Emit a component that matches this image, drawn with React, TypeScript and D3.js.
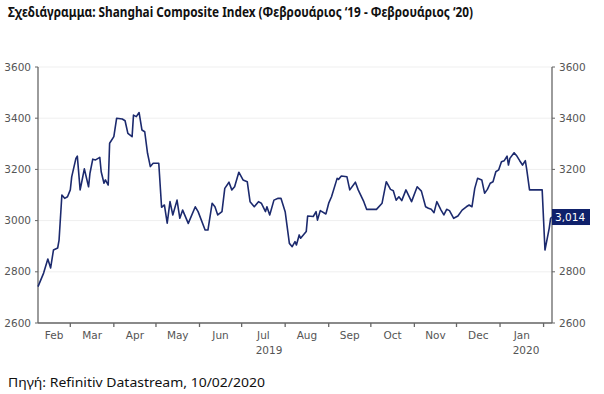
import React from "react";
import * as d3 from "d3";

const width = 604;
const height = 394;
const plot = { left: 38, right: 552, top: 67, bottom: 323 };

const title = "Σχεδιάγραμμα: Shanghai Composite Index (Φεβρουάριος ‘19 - Φεβρουάριος ‘20)";
const source = "Πηγή: Refinitiv Datastream, 10/02/2020";

const dates = [
  "2019-02-06", "2019-02-10", "2019-02-13", "2019-02-15", "2019-02-17", "2019-02-20", "2019-02-21", "2019-02-23",
  "2019-02-25", "2019-02-27", "2019-03-01", "2019-03-02", "2019-03-05", "2019-03-06", "2019-03-08", "2019-03-09",
  "2019-03-11", "2019-03-14", "2019-03-15", "2019-03-17", "2019-03-19", "2019-03-22", "2019-03-23", "2019-03-25",
  "2019-03-26", "2019-03-28", "2019-03-29", "2019-04-01", "2019-04-03", "2019-04-07", "2019-04-09", "2019-04-11",
  "2019-04-14", "2019-04-15", "2019-04-17", "2019-04-19", "2019-04-21", "2019-04-23", "2019-04-25", "2019-04-27",
  "2019-04-29", "2019-05-03", "2019-05-05", "2019-05-07", "2019-05-09", "2019-05-11", "2019-05-13", "2019-05-16",
  "2019-05-18", "2019-05-20", "2019-05-24", "2019-05-29", "2019-05-31", "2019-06-05", "2019-06-07", "2019-06-10",
  "2019-06-12", "2019-06-14", "2019-06-17", "2019-06-19", "2019-06-22", "2019-06-24", "2019-06-26", "2019-06-29",
  "2019-07-02", "2019-07-05", "2019-07-07", "2019-07-10", "2019-07-13", "2019-07-15", "2019-07-18", "2019-07-19",
  "2019-07-21", "2019-07-24", "2019-07-27", "2019-07-29", "2019-08-01", "2019-08-04", "2019-08-06", "2019-08-08",
  "2019-08-09", "2019-08-11", "2019-08-12", "2019-08-16", "2019-08-17", "2019-08-21", "2019-08-23", "2019-08-24",
  "2019-08-26", "2019-08-30", "2019-09-01", "2019-09-03", "2019-09-07", "2019-09-08", "2019-09-10", "2019-09-14",
  "2019-09-16", "2019-09-20", "2019-09-22", "2019-09-26", "2019-09-28", "2019-10-05", "2019-10-09", "2019-10-12",
  "2019-10-15", "2019-10-17", "2019-10-19", "2019-10-21", "2019-10-23", "2019-10-26", "2019-10-30", "2019-11-03",
  "2019-11-06", "2019-11-09", "2019-11-11", "2019-11-13", "2019-11-15", "2019-11-17", "2019-11-20", "2019-11-22",
  "2019-11-24", "2019-11-26", "2019-11-29", "2019-12-02", "2019-12-05", "2019-12-08", "2019-12-10", "2019-12-12",
  "2019-12-14", "2019-12-16", "2019-12-19", "2019-12-21", "2019-12-23", "2019-12-25", "2019-12-27", "2019-12-29",
  "2019-12-31", "2020-01-02", "2020-01-04", "2020-01-06", "2020-01-07", "2020-01-08", "2020-01-11", "2020-01-13",
  "2020-01-15", "2020-01-17", "2020-01-19", "2020-01-20", "2020-01-22", "2020-01-31", "2020-02-02", "2020-02-05",
  "2020-02-06", "2020-02-07",
];

const values = [
  2742, 2795, 2850, 2815, 2885, 2893, 2924, 3100,
  3087, 3093, 3120, 3171, 3243, 3252, 3120, 3147,
  3202, 3132, 3185, 3240, 3237, 3247, 3191, 3146,
  3159, 3139, 3302, 3328, 3400, 3397, 3390, 3341,
  3328, 3412, 3406, 3422, 3354, 3347, 3263, 3211,
  3224, 3224, 3052, 3061, 2990, 3074, 3022, 3080,
  3009, 3041, 2989, 3054, 3035, 2963, 2963, 3068,
  3054, 3022, 3035, 3126, 3150, 3120, 3132, 3189,
  3159, 3152, 3074, 3054, 3074, 3068, 3035, 3054,
  3022, 3080, 3087, 3087, 3035, 2911, 2898, 2918,
  2905, 2944, 2931, 2957, 3018, 3016, 3035, 3002,
  3039, 3026, 3068, 3093, 3165, 3161, 3174, 3171,
  3120, 3150, 3120, 3074, 3044, 3044, 3068, 3152,
  3122, 3117, 3080, 3093, 3078, 3120, 3074, 3132,
  3115, 3054, 3048, 3044, 3031, 3074, 3041, 3022,
  3044, 3039, 3009, 3018, 3041, 3054, 3061, 3054,
  3126, 3165, 3159, 3107, 3122, 3146, 3152, 3191,
  3198, 3230, 3234, 3252, 3217, 3243, 3265, 3252,
  3234, 3217, 3234, 3200, 3120, 3120, 2885, 2970,
  3009, 3014,
];

const yTicks = [2600, 2800, 3000, 3200, 3400, 3600];
const monthLabels = ["Feb", "Mar", "Apr", "May", "Jun", "Jul", "Aug", "Sep", "Oct", "Nov", "Dec", "Jan"];
const yearLabels = ["2019", "2020"];

const lineColor = "#1c2a6e";
const axisColor = "#666";
const textColor = "#555";
const tickFont = "DejaVu Sans, Verdana, sans-serif";

export default function App() {
  const parse = d3.utcParse("%Y-%m-%d");
  const data = dates.map((d, i) => ({ date: parse(d) as Date, value: values[i] }));

  const x = d3.scaleUtc()
    .domain(d3.extent(data, (d) => d.date) as [Date, Date])
    .range([plot.left, plot.right]);

  const y = d3.scaleLinear()
    .domain([2600, 3600])
    .range([plot.bottom, plot.top]);

  const line = d3.line<{ date: Date; value: number }>()
    .x((d) => x(d.date))
    .y((d) => y(d.value));

  const [d0, d1] = x.domain();
  // month boundaries (ticks) and centred month labels
  const monthTicks = d3.utcMonth.range(d3.utcMonth.ceil(d0), d1);
  const monthStarts = d3.utcMonth.range(d3.utcMonth.floor(d0), d1);
  const months = monthStarts.map((m, i) => {
    const a = m < d0 ? d0 : m;
    const next = d3.utcMonth.offset(m, 1);
    const b = next > d1 ? d1 : next;
    return { label: monthLabels[i], cx: (x(a) + x(b)) / 2 };
  });
  const years = yearLabels.map((yr) => {
    const ys = new Date(Date.UTC(+yr, 0, 1));
    const ye = new Date(Date.UTC(+yr + 1, 0, 1));
    const a = ys < d0 ? d0 : ys;
    const b = ye > d1 ? d1 : ye;
    return { label: yr, cx: (x(a) + x(b)) / 2 };
  });

  const last = data[data.length - 1];
  const lastY = y(last.value);
  const fmt = d3.format(",");

  return (
    <svg width={width} height={height} style={{ position: "absolute", left: 0, top: 0, background: "#fff" }}>
      <text x={8} y={17} fontFamily="Noto Sans, sans-serif" fontWeight="bold" fontSize={13.5}
        textLength={465} lengthAdjust="spacingAndGlyphs" fill="#111">{title}</text>

      {/* grid */}
      {yTicks.map((t) => (
        <line key={"g" + t} x1={plot.left} x2={plot.right} y1={y(t)} y2={y(t)} stroke="#efefef" strokeWidth={1} />
      ))}

      {/* axes */}
      <line x1={plot.left} x2={plot.left} y1={plot.top} y2={plot.bottom} stroke={axisColor} strokeWidth={1.3} />
      <line x1={plot.right} x2={plot.right} y1={plot.top} y2={plot.bottom} stroke={axisColor} strokeWidth={1.3} />
      <line x1={plot.left} x2={plot.right} y1={plot.bottom} y2={plot.bottom} stroke={axisColor} strokeWidth={1.3} />

      {yTicks.map((t) => (
        <g key={"y" + t}>
          <line x1={plot.left - 3} x2={plot.left} y1={y(t)} y2={y(t)} stroke={axisColor} />
          <line x1={plot.right} x2={plot.right + 3} y1={y(t)} y2={y(t)} stroke={axisColor} />
          <text x={plot.left - 7} y={y(t)} dy="0.35em" textAnchor="end" fontFamily={tickFont} fontSize={10.5} fill={textColor}>{t}</text>
          {/* right label is hidden where the last-value tag sits */}
          {Math.abs(y(t) - lastY) > 14 && (
            <text x={plot.right + 7} y={y(t)} dy="0.35em" fontFamily={tickFont} fontSize={10.5} fill={textColor}>{t}</text>
          )}
        </g>
      ))}

      {monthTicks.map((m) => (
        <line key={"t" + m.toISOString()} x1={x(m)} x2={x(m)} y1={plot.bottom} y2={plot.bottom + 4} stroke={axisColor} strokeWidth={1.3} />
      ))}
      {months.map((m) => (
        <text key={"m" + m.label} x={m.cx} y={339} textAnchor="middle" fontFamily={tickFont} fontSize={10.5} fill={textColor}>{m.label}</text>
      ))}
      {years.map((m) => (
        <text key={"yr" + m.label} x={m.cx} y={354} textAnchor="middle" fontFamily={tickFont} fontSize={10.5} fill={textColor}>{m.label}</text>
      ))}

      <path d={line(data) ?? ""} fill="none" stroke={lineColor} strokeWidth={1.6} strokeLinejoin="round" />

      {/* last value tag */}
      <rect x={plot.right} y={lastY - 8} width={38} height={16} fill="#0f206b" />
      <text x={plot.right + 3} y={lastY} dy="0.35em" fontFamily={tickFont} fontSize={10.5} fill="#fff">{fmt(last.value)}</text>

      <text x={8} y={387} fontFamily="Noto Sans, sans-serif" fontSize={12} textLength={257}
        lengthAdjust="spacingAndGlyphs" fill="#111">{source}</text>
    </svg>
  );
}
